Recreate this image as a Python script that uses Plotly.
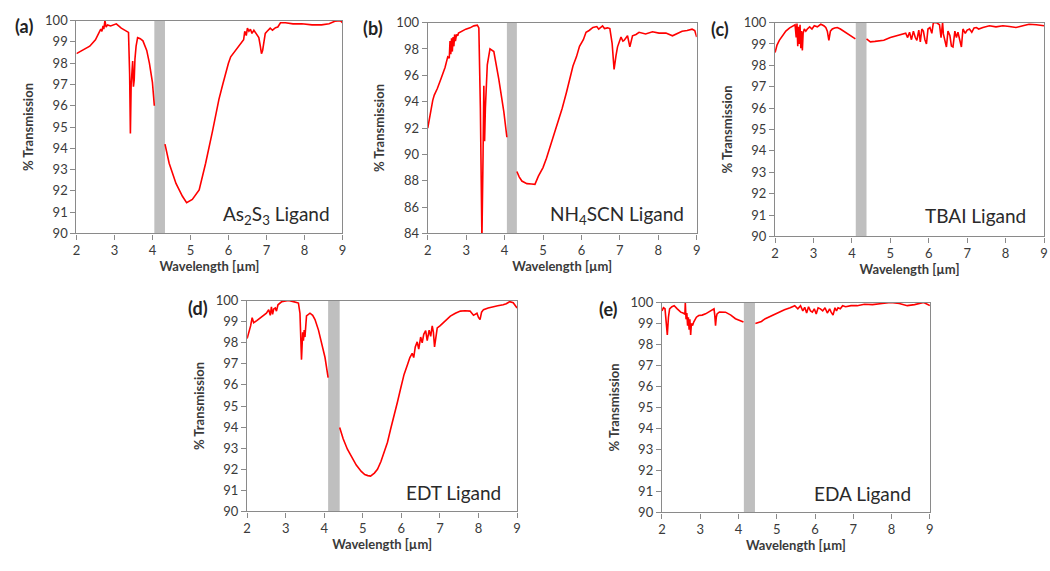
import plotly.graph_objects as go

# ---------------- data ----------------
# (a) As2S3
a1_x = [2.0, 2.15, 2.35, 2.5, 2.6, 2.64, 2.67, 2.7, 2.72, 2.75, 2.78, 2.82, 2.9, 3.05, 3.18, 3.3, 3.37, 3.4, 3.42, 3.44, 3.46, 3.48, 3.5, 3.52, 3.54, 3.57, 3.61, 3.68, 3.75, 3.85, 3.92, 4.0, 4.05]
a1_y = [98.45, 98.6, 98.8, 99.1, 99.45, 99.6, 99.5, 99.75, 99.6, 100.0, 99.7, 99.8, 99.75, 99.85, 99.65, 99.5, 99.45, 97.5, 94.7, 97.0, 97.5, 98.1, 96.9, 97.2, 98.2, 98.8, 99.2, 99.15, 99.05, 98.6, 98.0, 97.1, 96.0]
a2_x = [4.33, 4.44, 4.62, 4.79, 4.9, 5.05, 5.23, 5.4, 5.58, 5.75, 5.85, 5.93, 6.0, 6.06, 6.19, 6.32, 6.4, 6.43, 6.47, 6.5, 6.54, 6.58, 6.62, 6.67, 6.71, 6.76, 6.8, 6.84, 6.87, 6.9, 6.93, 6.97, 7.02, 7.1, 7.16, 7.24, 7.3, 7.37, 7.5, 7.7, 7.93, 8.2, 8.45, 8.65, 8.8, 8.95, 9.0]
a2_y = [94.2, 93.3, 92.35, 91.75, 91.45, 91.6, 92.05, 93.3, 94.8, 96.3, 97.0, 97.55, 98.0, 98.3, 98.6, 98.9, 99.1, 99.5, 99.3, 99.65, 99.5, 99.6, 99.4, 99.55, 99.44, 99.3, 99.2, 98.8, 98.45, 98.6, 99.05, 99.4, 99.5, 99.65, 99.55, 99.67, 99.7, 99.9, 99.9, 99.85, 99.85, 99.8, 99.8, 99.85, 99.97, 100.0, 99.9]

# (b) NH4SCN
b1_x = [2.0, 2.07, 2.13, 2.17, 2.25, 2.34, 2.45, 2.52, 2.56, 2.58, 2.6, 2.62, 2.64, 2.66, 2.68, 2.7, 2.72, 2.75, 2.78, 2.8, 2.86, 2.99, 3.1, 3.2, 3.29, 3.33, 3.37, 3.41, 3.44, 3.46, 3.48, 3.5, 3.55, 3.62, 3.72, 3.85, 3.98, 4.06]
b1_y = [92.0, 93.3, 94.1, 94.5, 95.0, 95.7, 96.6, 97.4, 97.3, 98.6, 97.6, 98.8, 97.8, 98.9, 98.2, 99.1, 98.6, 99.1, 99.0, 99.2, 99.3, 99.5, 99.6, 99.75, 99.8, 99.6, 93.5, 83.5, 90.0, 95.2, 91.0, 93.5, 96.8, 98.0, 97.8, 95.7, 93.25, 91.3]
b2_x = [4.32, 4.38, 4.45, 4.58, 4.7, 4.79, 4.88, 5.0, 5.09, 5.2, 5.35, 5.5, 5.61, 5.7, 5.78, 5.87, 5.95, 6.05, 6.12, 6.2, 6.3, 6.4, 6.45, 6.55, 6.6, 6.68, 6.74, 6.8, 6.85, 6.9, 6.94, 7.03, 7.08, 7.11, 7.17, 7.2, 7.26, 7.33, 7.42, 7.5, 7.67, 7.85, 8.02, 8.2, 8.37, 8.5, 8.62, 8.75, 8.88, 8.95, 9.0]
b2_y = [88.7, 88.3, 87.98, 87.78, 87.75, 87.73, 88.35, 89.0, 89.7, 90.7, 92.0, 93.5, 94.7, 95.8, 96.7, 97.4, 98.2, 98.7, 99.26, 99.4, 99.63, 99.7, 99.5, 99.75, 99.55, 99.6, 99.55, 98.4, 96.44, 97.5, 98.16, 98.9, 98.6, 98.65, 98.9, 99.0, 98.16, 99.0, 99.1, 99.26, 99.14, 99.3, 99.2, 99.2, 99.0, 99.2, 99.34, 99.4, 99.5, 99.4, 98.9]

# (c) TBAI
c1_x = [2.0, 2.05, 2.11, 2.2, 2.28, 2.38, 2.46, 2.52, 2.55, 2.57, 2.59, 2.61, 2.63, 2.65, 2.67, 2.69, 2.71, 2.73, 2.76, 2.8, 2.84, 2.9, 2.96, 3.02, 3.1, 3.19, 3.27, 3.32, 3.36, 3.4, 3.44, 3.49, 3.55, 3.62, 3.7, 3.79, 3.88, 3.96, 4.09]
c1_y = [98.6, 98.95, 99.17, 99.4, 99.6, 99.75, 99.85, 99.9, 99.3, 99.95, 98.9, 99.8, 99.0, 99.9, 98.8, 99.6, 98.7, 99.5, 99.7, 99.6, 99.7, 99.8, 99.7, 99.85, 99.8, 99.92, 99.85, 99.77, 99.6, 99.17, 99.6, 99.7, 99.75, 99.77, 99.7, 99.6, 99.5, 99.4, 99.24]
c2_x = [4.38, 4.48, 4.6, 4.83, 5.0, 5.17, 5.3, 5.4, 5.45, 5.5, 5.55, 5.6, 5.65, 5.69, 5.74, 5.78, 5.82, 5.86, 5.9, 5.94, 5.98, 6.03, 6.08, 6.12, 6.2, 6.28, 6.32, 6.36, 6.38, 6.42, 6.46, 6.5, 6.55, 6.59, 6.63, 6.68, 6.72, 6.76, 6.8, 6.85, 6.89, 6.95, 7.0, 7.06, 7.12, 7.18, 7.24, 7.3, 7.41, 7.58, 7.75, 7.93, 8.1, 8.27, 8.45, 8.61, 8.8, 9.0]
c2_y = [99.24, 99.1, 99.12, 99.17, 99.3, 99.4, 99.45, 99.5, 99.3, 99.55, 99.2, 99.6, 99.3, 99.17, 99.65, 99.1, 99.7, 99.6, 99.2, 99.0, 99.7, 99.77, 99.5, 100.0, 100.0, 99.9, 99.3, 100.0, 99.47, 99.2, 98.86, 99.6, 99.4, 98.9, 98.86, 99.6, 99.3, 99.55, 99.2, 98.86, 99.7, 99.5, 99.65, 99.7, 99.55, 99.75, 99.77, 99.7, 99.77, 99.85, 99.8, 99.85, 99.82, 99.77, 99.85, 99.92, 99.9, 99.85]

# (d) EDT
d1_x = [2.0, 2.05, 2.09, 2.13, 2.17, 2.25, 2.39, 2.5, 2.56, 2.6, 2.63, 2.66, 2.69, 2.73, 2.76, 2.8, 2.9, 3.0, 3.07, 3.2, 3.33, 3.37, 3.39, 3.41, 3.44, 3.46, 3.48, 3.5, 3.54, 3.63, 3.7, 3.76, 3.85, 3.93, 4.02, 4.1]
d1_y = [98.2, 98.5, 98.8, 99.19, 98.95, 99.05, 99.26, 99.4, 99.57, 99.3, 99.7, 99.35, 99.6, 99.65, 99.5, 99.8, 99.95, 100.0, 100.0, 99.95, 99.88, 99.4, 98.0, 97.2, 98.5, 98.1, 98.6, 98.27, 99.27, 99.4, 99.3, 99.1, 98.6, 98.04, 97.3, 96.35]
d2_x = [4.4, 4.49, 4.6, 4.7, 4.83, 4.96, 5.05, 5.13, 5.2, 5.3, 5.38, 5.47, 5.55, 5.64, 5.72, 5.81, 5.9, 5.99, 6.07, 6.16, 6.22, 6.28, 6.32, 6.36, 6.41, 6.45, 6.5, 6.54, 6.58, 6.63, 6.67, 6.72, 6.76, 6.8, 6.83, 6.86, 6.9, 6.93, 7.0, 7.1, 7.18, 7.27, 7.4, 7.53, 7.65, 7.78, 7.87, 7.96, 8.0, 8.04, 8.08, 8.13, 8.25, 8.38, 8.5, 8.64, 8.72, 8.81, 8.9, 9.0]
d2_y = [93.98, 93.45, 92.95, 92.6, 92.2, 91.9, 91.75, 91.7, 91.68, 91.82, 92.0, 92.37, 92.8, 93.28, 93.9, 94.5, 95.2, 95.9, 96.5, 96.97, 97.3, 97.5, 97.3, 97.8, 98.04, 97.7, 98.27, 98.0, 98.4, 98.58, 98.1, 98.6, 98.3, 98.8, 98.5, 97.8, 98.5, 98.7, 98.8, 98.96, 99.1, 99.26, 99.4, 99.5, 99.52, 99.5, 99.3, 99.4, 99.2, 99.1, 99.45, 99.57, 99.65, 99.72, 99.75, 99.8, 99.85, 99.95, 99.9, 99.65]

# (e) EDA
e1_x = [2.0, 2.04, 2.08, 2.11, 2.14, 2.17, 2.2, 2.26, 2.32, 2.4, 2.49, 2.55, 2.6, 2.61, 2.63, 2.65, 2.67, 2.69, 2.71, 2.73, 2.75, 2.77, 2.8, 2.83, 2.9, 2.96, 3.05, 3.14, 3.27, 3.36, 3.38, 3.4, 3.42, 3.44, 3.5, 3.58, 3.66, 3.8, 3.92, 4.13]
e1_y = [99.6, 99.75, 99.7, 98.9, 98.46, 99.3, 99.7, 99.8, 99.85, 99.7, 99.54, 99.5, 99.45, 100.0, 99.2, 99.5, 98.9, 99.3, 98.7, 99.2, 98.46, 99.0, 98.9, 99.07, 99.3, 99.38, 99.4, 99.46, 99.6, 99.7, 99.4, 98.9, 99.3, 99.46, 99.55, 99.54, 99.54, 99.4, 99.23, 99.07]
e2_x = [4.44, 4.6, 4.7, 4.88, 5.04, 5.2, 5.35, 5.47, 5.55, 5.62, 5.68, 5.73, 5.78, 5.83, 5.88, 5.93, 5.98, 6.03, 6.08, 6.14, 6.2, 6.26, 6.32, 6.38, 6.42, 6.47, 6.52, 6.56, 6.6, 6.66, 6.72, 6.8, 6.94, 7.1, 7.29, 7.5, 7.75, 7.98, 8.2, 8.41, 8.6, 8.84, 9.0]
e2_y = [99.0, 99.1, 99.23, 99.38, 99.54, 99.65, 99.75, 99.85, 99.7, 99.85, 99.6, 99.77, 99.5, 99.8, 99.6, 99.54, 99.7, 99.45, 99.75, 99.7, 99.6, 99.75, 99.5, 99.7, 99.54, 99.4, 99.75, 99.6, 99.75, 99.7, 99.85, 99.8, 99.85, 99.85, 99.92, 99.9, 99.95, 100.0, 99.95, 99.85, 99.9, 100.0, 99.85]

panel_tags = ["(a)", "(b)", "(c)", "(d)", "(e)"]
ligand_labels = ["As<sub>2</sub>S<sub>3</sub> Ligand", "NH<sub>4</sub>SCN Ligand", "TBAI Ligand", "EDT Ligand", "EDA Ligand"]
band_lo = [4.05, 4.06, 4.10, 4.10, 4.14]
band_hi = [4.33, 4.32, 4.38, 4.40, 4.43]
y_min = [90, 84, 90, 90, 90]
y_step = [1, 2, 1, 1, 1]
x_ticks = [2, 3, 4, 5, 6, 7, 8, 9]

series = [(a1_x, a1_y, a2_x, a2_y), (b1_x, b1_y, b2_x, b2_y), (c1_x, c1_y, c2_x, c2_y),
          (d1_x, d1_y, d2_x, d2_y), (e1_x, e1_y, e2_x, e2_y)]

# ---------------- layout geometry (pixels) ----------------
W, H = 1050, 571
boxes = [(73, 341, 13, 232), (427, 698, 15, 232), (777, 1048, 15, 235),
         (245, 517, 301, 518), (663, 933, 303, 519)]
tag_pos = [(20, 19), (372, 21), (722, 22), (195, 309), (609, 310)]
lab_pos = [(331, 213), (687, 213), (1032, 213), (503, 498), (916, 500)]

FONT = "Lato"
AXC = "#8a8a8a"
TXT = "#3a3a3a"

fig = go.Figure()
layout = dict(width=W, height=H, margin=dict(l=0, r=0, t=0, b=0),
              plot_bgcolor="white", paper_bgcolor="white", showlegend=False,
              font=dict(family=FONT, color=TXT))
shapes, annotations = [], []

for i, (x1, y1, x2, y2) in enumerate(series):
    k = "" if i == 0 else str(i + 1)
    xa, ya = "x" + k, "y" + k
    xs = list(x1) + [None] + list(x2)
    ys = list(y1) + [None] + list(y2)
    fig.add_trace(go.Scatter(x=xs, y=ys, mode="lines", xaxis=xa, yaxis=ya,
                             line=dict(color="#ff0000", width=1.6), connectgaps=False))
    l, r, t, b = boxes[i]
    axis_common = dict(showline=True, linecolor=AXC, linewidth=1.3, mirror=True,
                       ticks="outside", ticklen=5, tickcolor=AXC, showgrid=False,
                       zeroline=False, tickfont=dict(size=13, family=FONT, color=TXT))
    layout["xaxis" + k] = dict(domain=[l / W, r / W], range=[2, 9], anchor=ya,
                               tickvals=x_ticks, tickangle=0,
                               title=dict(text="<b>Wavelength [µm]</b>", standoff=3,
                                          font=dict(size=13, family=FONT, color=TXT)),
                               **axis_common)
    yt = list(range(y_min[i], 101, y_step[i]))
    layout["yaxis" + k] = dict(domain=[1 - b / H, 1 - t / H], range=[y_min[i], 100], anchor=xa,
                               tickvals=yt,
                               title=dict(text="<b>% Transmission</b>", standoff=8,
                                          font=dict(size=13, family=FONT, color=TXT)),
                               **axis_common)
    shapes.append(dict(type="rect", xref=xa, yref=ya + " domain", x0=band_lo[i], x1=band_hi[i],
                       y0=0, y1=1, fillcolor="#bfbfbf", line=dict(width=0), layer="below"))
    tx, ty = tag_pos[i]
    annotations.append(dict(text="<b>" + panel_tags[i] + "</b>", xref="paper", yref="paper",
                            x=tx / W, y=1 - ty / H, xanchor="center", yanchor="middle",
                            showarrow=False, font=dict(size=18, family=FONT, color="#222222")))
    lx, ly = lab_pos[i]
    annotations.append(dict(text=ligand_labels[i], xref="paper", yref="paper",
                            x=lx / W, y=1 - ly / H, xanchor="right", yanchor="middle",
                            showarrow=False, font=dict(size=19, family=FONT, color="#2a2a2a")))

layout["shapes"] = shapes
layout["annotations"] = annotations
fig.update_layout(**layout)
fig.write_html("out.html")
